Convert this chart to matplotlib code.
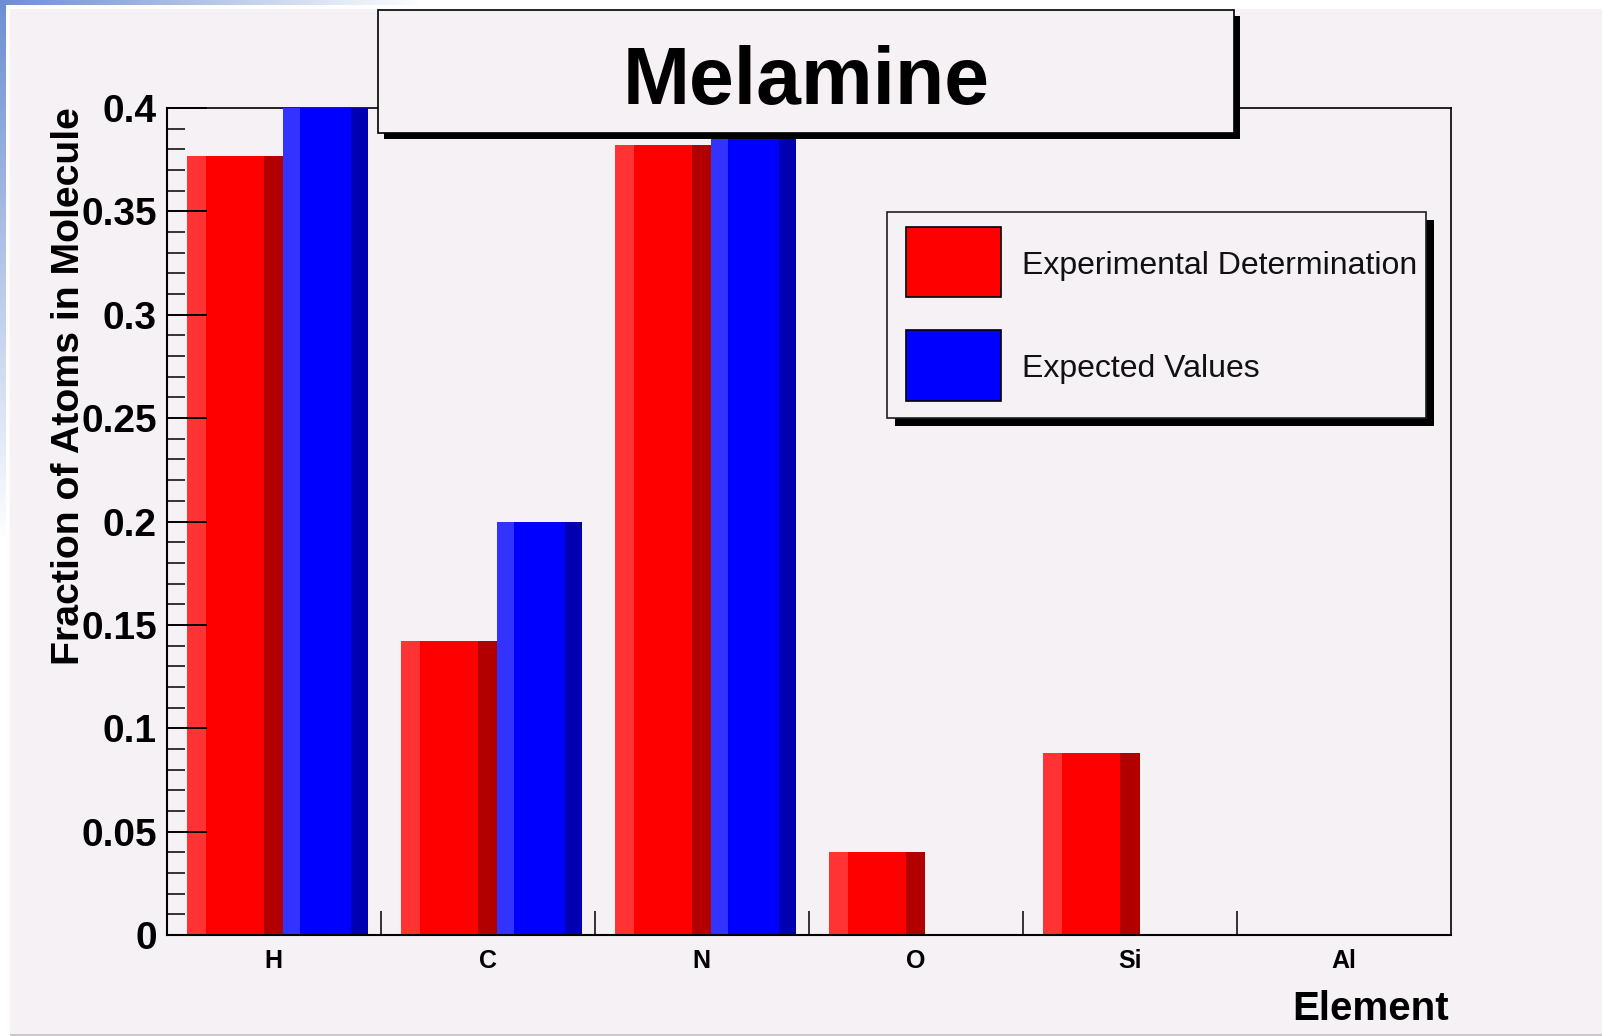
import numpy as np
import matplotlib.pyplot as plt
from matplotlib.patches import Rectangle
from matplotlib.ticker import MultipleLocator

plt.rcParams['font.family'] = ['Liberation Sans', 'DejaVu Sans']
plt.rcParams['font.weight'] = 'bold'

# atom fractions per element
elements = ['H', 'C', 'N', 'O', 'Si', 'Al']
experimental = [0.377, 0.142, 0.382, 0.040, 0.088, 0.0]
expected = [0.4, 0.2, 0.4, 0.0, 0.0, 0.0]
series_names = ['Experimental Determination', 'Expected Values']
y_ticks = [0, 0.05, 0.1, 0.15, 0.2, 0.25, 0.3, 0.35, 0.4]

red_shades = ['#ff3333', '#ff0000', '#b20000']
blue_shades = ['#3333ff', '#0000ff', '#0000b2']
canvas_col = '#f5f1f5'

W, H = 1602, 1036
fig = plt.figure(figsize=(W / 100, H / 100), dpi=100)
fig.patch.set_facecolor('white')


def box(x0, y0, x1, y1, **kw):
    # rectangle given in pixel coords, origin top-left
    return Rectangle((x0 / W, 1 - y1 / H), (x1 - x0) / W, (y1 - y0) / H,
                     transform=fig.transFigure, **kw)


# slide background: blue fading out from the top-left corner
yy, xx = np.mgrid[0:H, 0:W]
t = np.clip(1 - np.hypot(xx / 420, yy / 540), 0, 1)
t[(yy >= 5) & (xx >= 6)] = 0
blue = np.array([108, 142, 210]) / 255
bg = 1 - t[..., None] * (1 - blue)
bg_ax = fig.add_axes([0, 0, 1, 1], zorder=-10)
bg_ax.imshow(bg, aspect='auto')
bg_ax.axis('off')

fig.add_artist(box(10, 9, W, 1034, facecolor=canvas_col, edgecolor='none', zorder=-5))
fig.add_artist(box(10, 1034, W, H, facecolor='#c8c8c8', edgecolor='none', zorder=-5))

ax = fig.add_axes([166.5 / W, 1 - 935 / H, (1451 - 166.5) / W, (935 - 108) / H])
ax.set_facecolor(canvas_col)
ax.set_axisbelow(False)


def shaded_bars(x0, width, values, shades):
    # light strip, main body, dark strip
    light, main, dark = shades
    ax.bar(x0, values, width * 0.2, align='edge', color=light, linewidth=0, zorder=2)
    ax.bar(x0 + width * 0.2, values, width * 0.6, align='edge', color=main, linewidth=0, zorder=2)
    ax.bar(x0 + width * 0.8, values, width * 0.2, align='edge', color=dark, linewidth=0, zorder=2)


pos = np.arange(len(elements))
shaded_bars(pos + 0.095, 0.45, experimental, red_shades)
shaded_bars(pos + 0.545, 0.395, expected, blue_shades)

ax.set_xlim(0, len(elements))
ax.set_ylim(0, 0.4)

ax.set_xticks(pos[1:])
ax.set_xticklabels([])
ax.set_xticks(pos + 0.5, minor=True)
ax.set_xticklabels(elements, minor=True)
ax.tick_params(axis='x', which='major', direction='in', length=17, width=1.1)
ax.tick_params(axis='x', which='minor', length=0, pad=10, labelsize=18)

ax.set_yticks(y_ticks)
ax.set_yticklabels(['%g' % v for v in y_ticks])
ax.yaxis.set_minor_locator(MultipleLocator(0.01))
ax.tick_params(axis='y', which='major', direction='in', length=29, width=1.4, pad=7, labelsize=28)
ax.tick_params(axis='y', which='minor', direction='in', length=13, width=1.1)

for s in ['left', 'bottom']:
    ax.spines[s].set_linewidth(1.5)
    ax.spines[s].set_zorder(4)
for s in ['top', 'right']:
    ax.spines[s].set_linewidth(1.2)
    ax.spines[s].set_zorder(1)

fig.text(69 / W, 1 - 107 / H, 'Fraction of Atoms in Molecule', rotation=90,
         ha='center', va='top', fontsize=28.3, fontweight='bold')
fig.text(1449 / W, 1 - 1020 / H, 'Element', ha='right', va='baseline',
         fontsize=29, fontweight='bold')

# title pave with shadow
fig.add_artist(box(384, 16, 1240, 139, facecolor='black', edgecolor='none', zorder=5))
fig.add_artist(box(378, 10, 1234, 133, facecolor=canvas_col, edgecolor='black',
                   linewidth=1.2, zorder=6))
fig.text(806 / W, 1 - 104 / H, 'Melamine', ha='center', va='baseline',
         fontsize=58, fontweight='bold', zorder=7)

# legend
fig.add_artist(box(895, 220, 1434, 426, facecolor='black', edgecolor='none', zorder=5))
fig.add_artist(box(887, 212, 1426, 418, facecolor=canvas_col, edgecolor='#202020',
                   linewidth=1.2, zorder=6))
for (y0, y1), shades, name in zip([(227, 297), (330, 401)], [red_shades, blue_shades], series_names):
    fig.add_artist(box(906, y0, 1001, y1, facecolor=shades[1], edgecolor='black',
                       linewidth=1.2, zorder=7))
    fig.text(1022 / W, 1 - ((y0 + y1) / 2 + 4) / H, name, ha='left', va='center',
             fontsize=23, fontweight='normal', color='#111111', zorder=7)

fig.savefig('out.png', dpi=100)
